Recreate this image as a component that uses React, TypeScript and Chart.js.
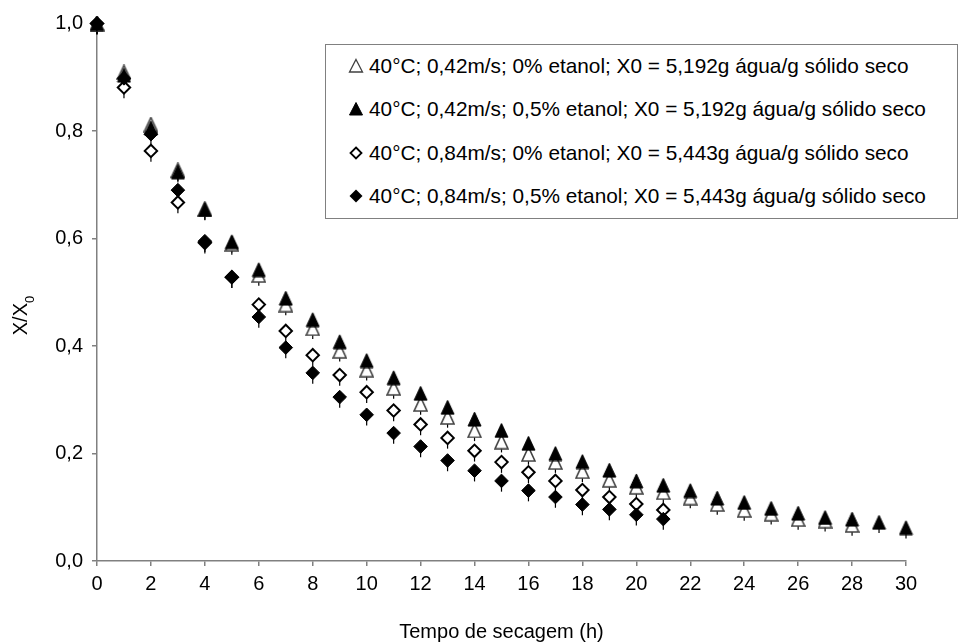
import React, { useEffect, useRef } from 'react';
import { Chart, registerables } from 'chart.js';

Chart.register(...registerables);

// Drying time (h)
const hours = [0, 1, 2, 3, 4, 5, 6, 7, 8, 9, 10, 11, 12, 13, 14, 15, 16, 17, 18, 19, 20, 21, 22, 23, 24, 25, 26, 27, 28, 29, 30];

// 40°C; 0,42m/s; 0% etanol (open triangle)
const seriesOpenTriangle = [1.0, 0.909, 0.812, 0.727, 0.655, 0.59, 0.532, 0.477, 0.433, 0.391, 0.356, 0.322, 0.292, 0.268, 0.243, 0.222, 0.199, 0.184, 0.167, 0.151, 0.138, 0.128, 0.118, 0.106, 0.095, 0.088, 0.078, 0.075, 0.067];
// 40°C; 0,42m/s; 0,5% etanol (filled triangle)
const seriesFilledTriangle = [1.0, 0.904, 0.806, 0.724, 0.654, 0.594, 0.542, 0.489, 0.449, 0.408, 0.373, 0.341, 0.312, 0.286, 0.264, 0.243, 0.219, 0.2, 0.185, 0.169, 0.149, 0.141, 0.131, 0.117, 0.109, 0.098, 0.089, 0.081, 0.078, 0.072, 0.062];
// 40°C; 0,84m/s; 0% etanol (open diamond)
const seriesOpenDiamond = [1.0, 0.881, 0.763, 0.667, 0.592, 0.528, 0.477, 0.428, 0.383, 0.346, 0.314, 0.28, 0.254, 0.229, 0.205, 0.184, 0.165, 0.149, 0.132, 0.119, 0.106, 0.095];
// 40°C; 0,84m/s; 0,5% etanol (filled diamond)
const seriesFilledDiamond = [1.0, 0.898, 0.794, 0.69, 0.595, 0.528, 0.454, 0.397, 0.35, 0.305, 0.272, 0.238, 0.213, 0.187, 0.168, 0.149, 0.131, 0.119, 0.105, 0.096, 0.086, 0.078];

const legendLabels = [
  '40°C; 0,42m/s; 0% etanol; X0 = 5,192g água/g sólido seco',
  '40°C; 0,42m/s; 0,5% etanol; X0 = 5,192g água/g sólido seco',
  '40°C; 0,84m/s; 0% etanol; X0 = 5,443g água/g sólido seco',
  '40°C; 0,84m/s; 0,5% etanol; X0 = 5,443g água/g sólido seco',
];

const xTitle = 'Tempo de secagem (h)';
const yTitleMain = 'X/X';
const yTitleSub = '0';
const errorBarMinus = 0.02;

const FONT = '"Liberation Sans", Arial, Helvetica, sans-serif';
const AXIS_GRAY = '#808080';

const toPoints = (vals: number[]) => vals.map((v, i) => ({ x: hours[i], y: v }));

function makeTriangle(fill: string, stroke: string, lw: number) {
  const c = document.createElement('canvas');
  c.width = 15;
  c.height = 16;
  const g = c.getContext('2d')!;
  g.beginPath();
  g.moveTo(7.5, 1);
  g.lineTo(14, 15);
  g.lineTo(1, 15);
  g.closePath();
  g.fillStyle = fill;
  g.fill();
  g.lineWidth = lw;
  g.strokeStyle = stroke;
  g.lineJoin = 'miter';
  g.stroke();
  return c;
}

const titlesPlugin = {
  id: 'titlesPlugin',
  afterDraw(chart: any) {
    const { ctx, chartArea } = chart;
    ctx.save();
    ctx.fillStyle = '#000';
    ctx.font = `20px ${FONT}`;
    ctx.textAlign = 'center';
    ctx.textBaseline = 'middle';
    ctx.fillText(xTitle, (chartArea.left + chartArea.right) / 2, chartArea.bottom + 71);
    ctx.restore();

    ctx.save();
    ctx.fillStyle = '#000';
    ctx.translate(27, (chartArea.top + chartArea.bottom) / 2 + 43);
    ctx.rotate(-Math.PI / 2);
    ctx.textAlign = 'left';
    ctx.textBaseline = 'alphabetic';
    ctx.font = `20px ${FONT}`;
    ctx.fillText(yTitleMain, 0, 0);
    const w = ctx.measureText(yTitleMain).width;
    ctx.font = `13px ${FONT}`;
    ctx.fillText(yTitleSub, w, 7);
    ctx.restore();
  },
};

const errorBarPlugin = {
  id: 'errorBarPlugin',
  beforeDatasetsDraw(chart: any) {
    const { ctx } = chart;
    const yScale = chart.scales.y;
    ctx.save();
    ctx.lineWidth = 1.2;
    chart.data.datasets.forEach((ds: any, di: number) => {
      const meta = chart.getDatasetMeta(di);
      ctx.strokeStyle = '#000';
      meta.data.forEach((el: any, i: number) => {
        const v = ds.data[i].y;
        ctx.beginPath();
        ctx.moveTo(el.x, el.y);
        ctx.lineTo(el.x, yScale.getPixelForValue(v - errorBarMinus));
        ctx.stroke();
      });
    });
    ctx.restore();
  },
};

function LegendMarker({ kind }: { kind: number }) {
  if (kind === 0)
    return (
      <svg width="16" height="16" style={{ display: 'block' }}>
        <polygon points="8,1.5 14.5,14 1.5,14" fill="#fff" stroke="#404040" strokeWidth="1.3" />
      </svg>
    );
  if (kind === 1)
    return (
      <svg width="16" height="16" style={{ display: 'block' }}>
        <polygon points="8,1.5 14.5,14 1.5,14" fill="#000" stroke="#000" strokeWidth="1" />
      </svg>
    );
  if (kind === 2)
    return (
      <svg width="16" height="16" style={{ display: 'block' }}>
        <polygon points="8,2.5 13.5,8 8,13.5 2.5,8" fill="#fff" stroke="#000" strokeWidth="1.8" />
      </svg>
    );
  return (
    <svg width="16" height="16" style={{ display: 'block' }}>
      <polygon points="8,1.5 14.5,8 8,14.5 1.5,8" fill="#000" />
    </svg>
  );
}

export default function App() {
  const canvasRef = useRef<HTMLCanvasElement>(null);

  useEffect(() => {
    if (!canvasRef.current) return;
    const openTri = makeTriangle('#ffffff', '#404040', 1.6);
    const filledTri = makeTriangle('#000000', '#000000', 1);
    const chart = new Chart(canvasRef.current, {
      type: 'scatter',
      data: {
        datasets: [
          {
            label: legendLabels[0],
            data: toPoints(seriesOpenTriangle),
            pointStyle: openTri as any,
            pointRadius: 8,
            pointHoverRadius: 8,
            backgroundColor: '#ffffff',
            borderColor: '#404040',
            borderWidth: 1.6,
            order: 4,
            clip: false,
          },
          {
            label: legendLabels[1],
            data: toPoints(seriesFilledTriangle),
            pointStyle: filledTri as any,
            pointRadius: 8,
            pointHoverRadius: 8,
            backgroundColor: '#000000',
            borderColor: '#000000',
            borderWidth: 1,
            order: 3,
            clip: false,
          },
          {
            label: legendLabels[2],
            data: toPoints(seriesOpenDiamond),
            pointStyle: 'rectRot',
            pointRadius: 6.2,
            pointHoverRadius: 6.2,
            backgroundColor: '#ffffff',
            borderColor: '#000000',
            borderWidth: 2,
            order: 2,
            clip: false,
          },
          {
            label: legendLabels[3],
            data: toPoints(seriesFilledDiamond),
            pointStyle: 'rectRot',
            pointRadius: 6.8,
            pointHoverRadius: 6.8,
            backgroundColor: '#000000',
            borderColor: '#000000',
            borderWidth: 1,
            order: 1,
            clip: false,
          },
        ],
      },
      options: {
        responsive: false,
        animation: false,
        events: [],
        layout: { padding: { top: 23.5, right: 56, left: 0, bottom: 0 } },
        plugins: {
          legend: { display: false },
          tooltip: { enabled: false },
        },
        scales: {
          x: {
            type: 'linear',
            min: 0,
            max: 30,
            ticks: {
              stepSize: 2,
              color: '#000',
              font: { family: FONT, size: 20 },
              padding: 6,
              maxRotation: 0,
              autoSkip: false,
            },
            grid: {
              display: true,
              drawOnChartArea: false,
              drawTicks: true,
              tickLength: 5,
              color: AXIS_GRAY,
              lineWidth: 1.5,
            },
            border: { color: AXIS_GRAY, width: 1.5 },
            afterFit: (s: any) => {
              s.height = 83;
            },
          },
          y: {
            type: 'linear',
            min: 0,
            max: 1,
            ticks: {
              stepSize: 0.2,
              color: '#000',
              font: { family: FONT, size: 20 },
              padding: 9,
              callback: (v: any) => Number(v).toFixed(1).replace('.', ','),
            },
            grid: {
              display: true,
              drawOnChartArea: false,
              drawTicks: true,
              tickLength: 5,
              color: AXIS_GRAY,
              lineWidth: 1.5,
            },
            border: { color: AXIS_GRAY, width: 1.5 },
            afterFit: (s: any) => {
              s.width = 97;
            },
          },
        },
      },
      plugins: [titlesPlugin, errorBarPlugin],
    });
    return () => chart.destroy();
  }, []);

  const rowCenters = [21, 64, 108, 151];

  return (
    <div style={{ position: 'absolute', left: 0, top: 0, width: 962, height: 644, background: '#fff', overflow: 'hidden' }}>
      <canvas ref={canvasRef} width={962} height={644} style={{ display: 'block', width: 962, height: 644 }} />
      <div
        style={{
          position: 'absolute',
          left: 325,
          top: 44,
          width: 633,
          height: 175,
          border: `1.5px solid ${AXIS_GRAY}`,
          boxSizing: 'border-box',
          background: '#fff',
          fontFamily: FONT,
          fontSize: 20.8,
          color: '#000',
        }}
      >
        {legendLabels.map((label, i) => (
          <div
            key={i}
            style={{
              position: 'absolute',
              left: 0,
              top: rowCenters[i] - 12,
              height: 24,
              display: 'flex',
              alignItems: 'center',
              whiteSpace: 'nowrap',
            }}
          >
            <div style={{ width: 16, marginLeft: 22, marginRight: 5 }}>
              <LegendMarker kind={i} />
            </div>
            <span style={{ lineHeight: '24px' }}>{label}</span>
          </div>
        ))}
      </div>
    </div>
  );
}
